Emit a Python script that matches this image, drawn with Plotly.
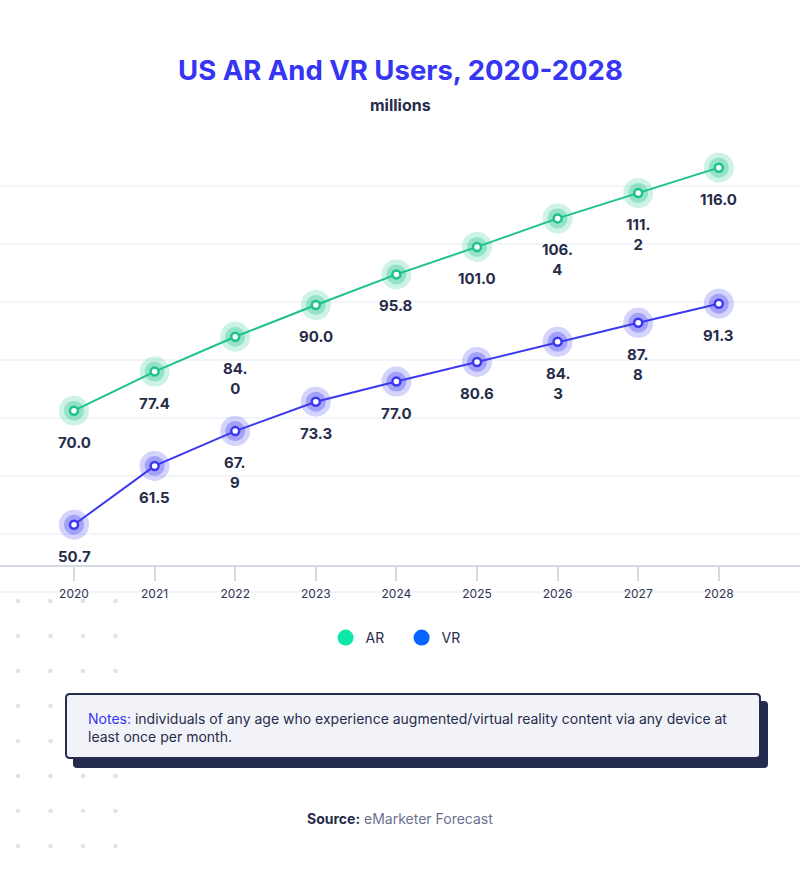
import plotly.graph_objects as go

# ---------------- data ----------------
years = [2020, 2021, 2022, 2023, 2024, 2025, 2026, 2027, 2028]
ar_values = [70.0, 77.4, 84.0, 90.0, 95.8, 101.0, 106.4, 111.2, 116.0]
vr_values = [50.7, 61.5, 67.9, 73.3, 77.0, 80.6, 84.3, 87.8, 91.3]
series_names = ["AR", "VR"]
wrapped_label_years = [2022, 2026, 2027]

title_text = "US AR And VR Users, 2020-2028"
subtitle_text = "millions"
notes_text = ("individuals of any age who experience augmented/virtual reality content via any device at"
              "<br>least once per month.")
source_text = "eMarketer Forecast"

# ---------------- styling ----------------
W, H = 800, 874
PLOT_TOP, PLOT_BOTTOM = 128, 565
FONT = "Inter"
DARK = "#262c4a"
TITLE_BLUE = "#3535f3"
AR_LINE = "#1cc28b"
VR_LINE = "#3c38f0"
AR_LEGEND = "#0ce8a8"
VR_LEGEND = "#0465ff"
GRID = "#e7eaf3"
AXIS = "#d6d9e1"


def pyp(p):
    return (PLOT_BOTTOM - p) / (PLOT_BOTTOM - PLOT_TOP)


def pxp(p):
    return p / W


def rgba(hex_color, a):
    h = hex_color.lstrip("#")
    r, g, b = int(h[0:2], 16), int(h[2:4], 16), int(h[4:6], 16)
    return f"rgba({r},{g},{b},{a})"


def fmt_label(v, yr):
    s = f"{v:.1f}"
    if yr in wrapped_label_years:
        a, b = s.split(".")
        return f"{a}.<br>{b}"
    return s


def rounded_rect_path(x0, y0, x1, y1, r):
    def P(x, y):
        return f"{pxp(x):.5f},{pyp(y):.5f}"
    return (f"M {P(x0 + r, y0)} L {P(x1 - r, y0)} Q {P(x1, y0)} {P(x1, y0 + r)} "
            f"L {P(x1, y1 - r)} Q {P(x1, y1)} {P(x1 - r, y1)} "
            f"L {P(x0 + r, y1)} Q {P(x0, y1)} {P(x0, y1 - r)} "
            f"L {P(x0, y0 + r)} Q {P(x0, y0)} {P(x0 + r, y0)} Z")


fig = go.Figure()
annotations = []

series = [
    (series_names[0], ar_values, "y", AR_LINE, AR_LEGEND),
    (series_names[1], vr_values, "y2", VR_LINE, VR_LEGEND),
]

for name, vals, yax, lc, legc in series:
    fig.add_trace(go.Scatter(x=years, y=vals, yaxis=yax, mode="markers",
                             marker=dict(size=30, color=rgba(lc, 0.22), line=dict(width=0)),
                             showlegend=False, hoverinfo="skip"))
    fig.add_trace(go.Scatter(x=years, y=vals, yaxis=yax, mode="markers",
                             marker=dict(size=20, color=rgba(lc, 0.32), line=dict(width=0)),
                             showlegend=False, hoverinfo="skip"))
    fig.add_trace(go.Scatter(x=years, y=vals, yaxis=yax, mode="lines+markers",
                             line=dict(color=lc, width=2),
                             marker=dict(size=8, color="white", line=dict(color=lc, width=2.5)),
                             showlegend=False, name=name))
    fig.add_trace(go.Scatter(x=[None], y=[None], yaxis=yax, mode="markers", name=name,
                             marker=dict(size=16, color=legc), showlegend=True))
    for yr, v in zip(years, vals):
        annotations.append(dict(x=yr, y=v, xref="x", yref=yax, text=fmt_label(v, yr),
                                showarrow=False, yanchor="top", yshift=-20,
                                font=dict(family=FONT, size=15, color=DARK, weight=700)))

shapes = []
for k in range(8):
    yp = 592 - 58 * k
    shapes.append(dict(type="line", xref="paper", yref="paper", x0=0, x1=1,
                       y0=pyp(yp), y1=pyp(yp), line=dict(color=GRID, width=1), layer="below"))
for row in range(8):
    for col in range(4):
        cx = 18 + col * 32.5
        cy = 601 + row * 35
        shapes.append(dict(type="circle", xref="paper", yref="paper",
                           x0=pxp(cx - 2.3), x1=pxp(cx + 2.3), y0=pyp(cy + 2.3), y1=pyp(cy - 2.3),
                           fillcolor="#dfe3f0", line=dict(width=0)))
shapes.append(dict(type="path", xref="paper", yref="paper",
                   path=rounded_rect_path(73, 701, 768, 768, 4),
                   fillcolor="#262c4f", line=dict(width=0)))
shapes.append(dict(type="path", xref="paper", yref="paper",
                   path=rounded_rect_path(66, 694, 760, 758, 4),
                   fillcolor="#f2f3f9", line=dict(color="#262c4f", width=2)))

annotations += [
    dict(text=f"<b>{title_text}</b>", x=0.5, y=pyp(70), xref="paper", yref="paper",
         showarrow=False, yanchor="middle",
         font=dict(family=FONT, size=27.5, color=TITLE_BLUE, weight=800)),
    dict(text=subtitle_text, x=0.5, y=pyp(105), xref="paper", yref="paper",
         showarrow=False, yanchor="middle",
         font=dict(family=FONT, size=16, color=DARK, weight=700)),
    dict(text=f"<span style='color:{TITLE_BLUE}'>Notes:</span> {notes_text}",
         x=pxp(86), y=pyp(727), xref="paper", yref="paper", xanchor="left", yanchor="middle",
         align="left", showarrow=False,
         font=dict(family=FONT, size=14, color=DARK, weight=400)),
    dict(text=f"<b>Source:</b> <span style='color:#6b7190'>{source_text}</span>",
         x=0.5, y=pyp(818), xref="paper", yref="paper", showarrow=False, yanchor="middle",
         font=dict(family=FONT, size=14, color=DARK, weight=400)),
]

fig.update_layout(
    width=W, height=H, autosize=False,
    margin=dict(l=0, r=0, t=PLOT_TOP, b=H - PLOT_BOTTOM),
    paper_bgcolor="white", plot_bgcolor="white",
    font=dict(family=FONT, color=DARK),
    showlegend=True,
    legend=dict(orientation="h", x=0.502, xanchor="center", y=pyp(638), yanchor="middle",
                font=dict(family=FONT, size=14, color=DARK), itemclick=False,
                entrywidth=31, entrywidthmode="pixels"),
    xaxis=dict(range=[2020 - 74 / 80.6, 2020 + 726 / 80.6], tickvals=years,
               ticktext=[str(y) for y in years], showgrid=False, zeroline=False,
               showline=True, linecolor=AXIS, linewidth=1.5,
               ticks="outside", ticklen=14, tickcolor=AXIS, tickwidth=1.5,
               ticklabelstandoff=3,
               tickfont=dict(family=FONT, size=12, color="#2f3553")),
    yaxis=dict(range=[40.79, 123.51], visible=False, showgrid=False, zeroline=False),
    yaxis2=dict(range=[43.30, 123.58], overlaying="y", visible=False,
                showgrid=False, zeroline=False),
    shapes=shapes,
    annotations=annotations,
)

fig.write_html("out.html", config={"displayModeBar": False},
               post_script="document.body.style.margin='0';")
